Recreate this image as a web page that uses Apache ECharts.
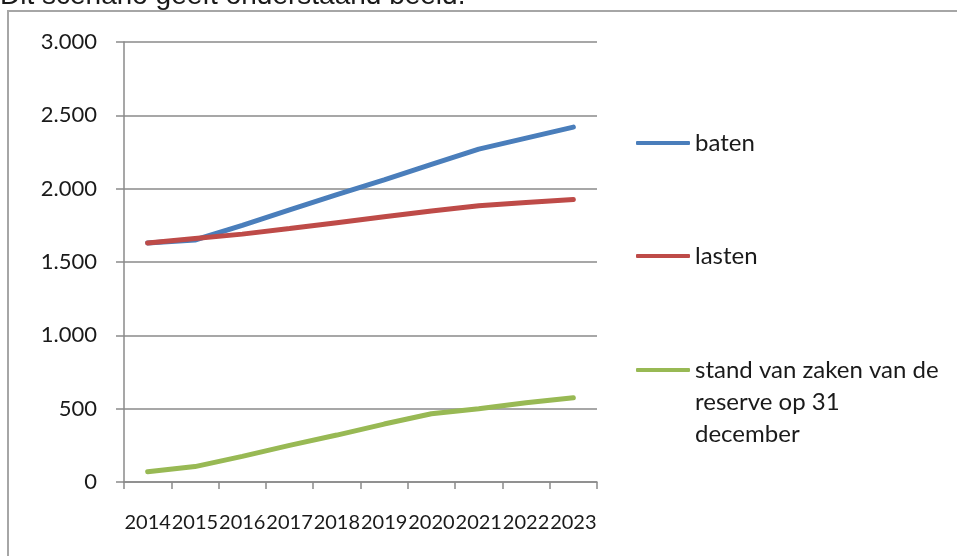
<!DOCTYPE html>
<html>
<head>
<meta charset="utf-8">
<script src="https://cdn.jsdelivr.net/npm/echarts@6/dist/echarts.min.js"></script>
<style>
html,body{margin:0;padding:0;background:#fff;}
#c{width:957px;height:556px;}
</style>
</head>
<body>
<div id="c"></div>
<script>
const years = ['2014','2015','2016','2017','2018','2019','2020','2021','2022','2023'];
const baten = [1630, 1650, 1750, 1855, 1960, 2060, 2165, 2270, 2345, 2420];
const lasten = [1630, 1660, 1690, 1728, 1768, 1808, 1848, 1884, 1906, 1926];
const reserve = [70, 105, 175, 250, 320, 395, 465, 500, 540, 575];
const seriesNames = ['baten', 'lasten', 'stand van zaken van de\nreserve op 31\ndecember'];
const colors = ['#4a7ebb', '#be4b48', '#98b954'];
const caption = 'Dit scenario geeft onderstaand beeld.';

const FONT = 'Lato';
const chart = echarts.init(document.getElementById('c'));

function mkLegend(idx, top, text) {
  return {
    left: 636, top: top, orient: 'vertical', padding: 0,
    icon: 'roundRect', itemWidth: 54, itemHeight: 4, itemGap: 0,
    selectedMode: false,
    formatter: text ? (() => text) : undefined,
    textStyle: {fontFamily: FONT, fontSize: 24, color: '#1a1a1a', lineHeight: 32, padding: [0,0,0,0]},
    data: [{name: seriesNames[idx], itemStyle: {color: colors[idx]}}]
  };
}

chart.setOption({
  animation: false,
  color: colors,
  grid: {left: 124, right: 360, top: 42, bottom: 74, containLabel: false},
  legend: [
    mkLegend(0, 143 - 16),
    mkLegend(1, 256 - 16),
    mkLegend(2, 370 - 80, '\n\n' + seriesNames[2])
  ],
  graphic: [
    {type: 'rect', shape: {x: 8, y: 11, width: 1200, height: 800}, style: {fill: 'none', stroke: '#a6a6a6', lineWidth: 2}, silent: true},
    {type: 'text', x: 0, y: -4, style: {text: caption, font: '28px "Liberation Sans"', fill: '#1a1a1a', verticalAlign: 'middle'}, silent: true}
  ],
  xAxis: {
    type: 'category', data: years, boundaryGap: true,
    axisLine: {lineStyle: {color: '#8a8a8a', width: 1.5}},
    axisTick: {show: true, length: 7, alignWithLabel: false, lineStyle: {color: '#8a8a8a', width: 1.5}},
    axisLabel: {interval: 0, margin: 31, fontFamily: FONT, fontSize: 20, color: '#1a1a1a'},
    splitLine: {show: false}
  },
  yAxis: {
    type: 'value', min: 0, max: 3000, interval: 500,
    axisLine: {show: true, lineStyle: {color: '#8a8a8a', width: 1.5}},
    axisTick: {show: true, length: 8, lineStyle: {color: '#8a8a8a', width: 1.5}},
    axisLabel: {margin: 27, fontFamily: FONT, fontSize: 22, color: '#1a1a1a',
      formatter: v => String(v).replace(/\B(?=(\d{3})+(?!\d))/g, '.')},
    splitLine: {show: true, lineStyle: {color: '#8a8a8a', width: 1.5}}
  },
  series: [
    {name: seriesNames[0], type: 'line', data: baten, showSymbol: false, lineStyle: {width: 5, color: colors[0], cap: 'round'}, itemStyle: {color: colors[0]}},
    {name: seriesNames[1], type: 'line', data: lasten, showSymbol: false, lineStyle: {width: 5, color: colors[1], cap: 'round'}, itemStyle: {color: colors[1]}},
    {name: seriesNames[2], type: 'line', data: reserve, showSymbol: false, lineStyle: {width: 5, color: colors[2], cap: 'round'}, itemStyle: {color: colors[2]}}
  ]
});
</script>
</body>
</html>
